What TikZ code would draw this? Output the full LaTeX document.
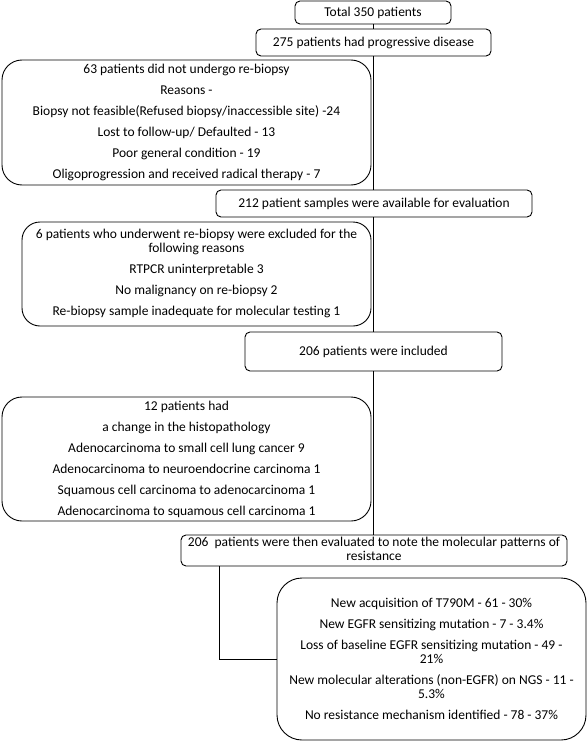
\documentclass[tikz,border=0pt]{standalone}
\usepackage{fontspec}
\setmainfont{Carlito}
\begin{document}
\begin{tikzpicture}[x=1pt,y=-1pt,
  box/.style={draw, line width=0.9pt, rounded corners=5pt, fill=white, align=center, inner sep=0pt,
    font=\fontsize{13.5}{14}\selectfont},
  bigbox/.style={box, rounded corners=20pt},
  link/.style={line width=0.9pt}]
\useasboundingbox (0,0) rectangle (587,741);
\node[box, minimum width=156pt, minimum height=23pt] (total) at (373,12.5) {Total 350 patients};
\node[box, minimum width=235pt, minimum height=27pt] (p275) at (373.5,42.5) {275 patients had progressive disease};
\node[bigbox, minimum width=369pt, minimum height=125pt] (n63) at (186.5,122.5)
  {63 patients did not undergo re-biopsy\\[7pt]
   Reasons -\\[7pt]
   Biopsy not feasible(Refused biopsy/inaccessible site) -24\\[7pt]
   Lost to follow-up/ Defaulted - 13\\[7pt]
   Poor general condition - 19\\[7pt]
   Oligoprogression and received radical therapy - 7};
\node[box, minimum width=316pt, minimum height=27pt] (n212) at (374,203.5) {212 patient samples were available for evaluation};
\node[bigbox, rounded corners=18pt, minimum width=349pt, minimum height=104pt] (n6) at (196.5,274)
  {\raisebox{5.5pt}{\begin{tabular}{@{}c@{}}
   6 patients who underwent re-biopsy were excluded for the\\
   following reasons\\[7pt]
   RTPCR uninterpretable 3\\[7pt]
   No malignancy on re-biopsy 2\\[7pt]
   Re-biopsy sample inadequate for molecular testing 1
   \end{tabular}}};
\node[box, minimum width=257pt, minimum height=39pt] (n206) at (373.5,351.5) {206 patients were included};
\node[bigbox, minimum width=369pt, minimum height=124pt] (n12) at (186.5,459)
  {12 patients had\\[7pt]
   a change in the histopathology\\[7pt]
   Adenocarcinoma to small cell lung cancer 9\\[7pt]
   Adenocarcinoma to neuroendocrine carcinoma 1\\[7pt]
   Squamous cell carcinoma to adenocarcinoma 1\\[7pt]
   Adenocarcinoma to squamous cell carcinoma 1};
\node[box, minimum width=386pt, minimum height=31pt] (eval) at (374,550.5)
  {\raisebox{-3pt}{\begin{tabular}{@{}c@{}}
   206\ \ patients were then evaluated to note the molecular patterns of\\
   resistance\end{tabular}}};
\node[bigbox, rounded corners=25pt, minimum width=309pt, minimum height=162pt] (final) at (431.5,659)
  {New acquisition of T790M - 61 - 30\%\\[7pt]
   New EGFR sensitizing mutation - 7 - 3.4\%\\[7pt]
   Loss of baseline EGFR sensitizing mutation - 49 -\\
   21\%\\[7pt]
   New molecular alterations (non-EGFR) on NGS - 11 -\\
   5.3\%\\[7pt]
   No resistance mechanism identified - 78 - 37\%};
\draw[link] (total.south) -- (total.south |- p275.north);
\draw[link] (total.south |- p275.south) -- (total.south |- n212.north);
\draw[link] (total.south |- n212.south) -- (total.south |- n206.north);
\draw[link] (total.south |- n206.south) -- (total.south |- eval.north);
\draw[link] ([xshift=39pt]eval.south west) |- (final.west);
\end{tikzpicture}
\end{document}
